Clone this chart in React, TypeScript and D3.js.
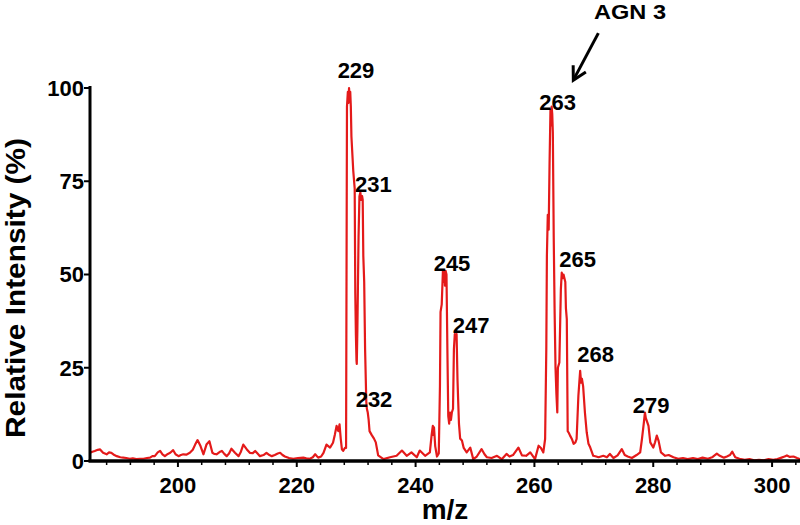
import React, { useRef, useEffect } from 'react';
import * as d3 from 'd3';

// spectrum trace: [m/z, relative intensity %]
const spectrum: [number, number][] = [
  [185.2, 2.2], [185.6, 2.5], [186.0, 2.7], [186.5, 3.0], [186.9, 3.1], [187.4, 2.2],
  [188.0, 1.8], [188.4, 2.3], [188.8, 2.2], [189.3, 1.6], [189.7, 1.3], [190.3, 1.0],
  [190.8, 0.9], [191.3, 0.8], [191.9, 0.6], [192.4, 0.7], [193.0, 0.5], [193.6, 0.6],
  [194.2, 0.6], [194.8, 0.8], [195.3, 0.9], [195.7, 1.3], [196.1, 1.3], [196.6, 2.3],
  [197.0, 2.7], [197.4, 1.8], [197.8, 1.3], [198.3, 1.9], [198.7, 2.2], [199.2, 2.9],
  [199.6, 1.8], [200.1, 1.3], [200.5, 1.6], [200.9, 1.8], [201.4, 1.7], [202.0, 2.2],
  [202.5, 3.0], [202.9, 4.4], [203.3, 5.6], [203.8, 4.0], [204.3, 1.8], [204.8, 4.4],
  [205.3, 5.3], [205.8, 2.2], [206.1, 1.9], [206.5, 1.8], [207.0, 2.4], [207.4, 2.7],
  [207.8, 1.9], [208.2, 1.3], [208.6, 2.0], [209.0, 3.3], [209.6, 2.2], [210.2, 1.3],
  [210.6, 2.5], [211.0, 4.4], [211.6, 3.1], [212.1, 2.2], [212.6, 2.1], [213.0, 2.7],
  [213.4, 2.0], [213.8, 1.3], [214.4, 1.6], [214.9, 2.2], [215.4, 1.6], [215.8, 1.3],
  [216.3, 1.6], [216.8, 2.0], [217.2, 2.2], [217.6, 1.6], [218.0, 1.2], [218.7, 0.8],
  [219.4, 0.6], [220.2, 0.8], [221.1, 0.9], [221.6, 0.7], [222.2, 0.6], [222.7, 1.0],
  [223.1, 1.8], [223.6, 0.9], [224.1, 1.2], [224.5, 2.2], [225.0, 4.4], [225.3, 4.0],
  [225.6, 3.6], [226.1, 4.9], [226.4, 7.0], [226.7, 9.4], [227.0, 8.0], [227.2, 9.8],
  [227.4, 6.0], [227.6, 3.1], [227.8, 2.7], [228.1, 3.5], [228.3, 3.5],
  // 229 / 231 / 232 cluster
  [228.45, 95], [228.6, 99], [228.7, 96], [228.8, 100], [228.9, 97], [229.0, 99],
  [229.1, 95], [229.2, 87], [229.5, 78], [229.75, 73], [229.85, 45], [229.95, 34],
  [230.05, 27], [230.1, 26], [230.2, 35], [230.4, 60], [230.55, 71], [230.7, 72],
  [230.85, 70], [231.0, 71], [231.1, 70], [231.2, 55], [231.35, 48], [231.5, 30],
  [231.7, 16], [231.8, 14], [231.95, 13], [232.1, 11], [232.25, 8], [232.6, 7],
  [233.0, 6], [233.3, 5], [233.7, 1.5],
  [234.6, 0.5], [235.7, 1.0], [236.8, 1.4], [237.7, 2.8], [238.5, 1.4], [239.3, 2.3],
  [240.2, 1.0], [240.7, 2.8], [241.6, 1.4], [242.4, 2.3],
  // 243 / 245 / 247
  [242.7, 7], [242.9, 9.4], [243.0, 7], [243.1, 9], [243.3, 4], [243.6, 1.2],
  [243.9, 2], [244.1, 20], [244.2, 40], [244.4, 42], [244.6, 51], [244.75, 48],
  [244.85, 51], [244.95, 47], [245.05, 51], [245.2, 50], [245.35, 30], [245.5, 12],
  [245.65, 10], [245.8, 13], [245.95, 11], [246.1, 13], [246.3, 14], [246.45, 30],
  [246.6, 34], [246.75, 33], [246.9, 34], [247.05, 22], [247.15, 17], [247.3, 10],
  [247.5, 6], [247.8, 5.5], [248.1, 3.5], [248.6, 2.3], [249.2, 3.6], [249.7, 0.5],
  [250.3, 1.2], [251.1, 3.2], [251.6, 1.8], [252.0, 1.0], [252.8, 0.8], [253.7, 1.4],
  [254.5, 0.5], [255.3, 1.9], [255.8, 1.2], [256.4, 1.6], [257.3, 3.6], [257.9, 1.5],
  [258.6, 1.4], [259.3, 2.3], [260.1, 0.5], [260.7, 4.1], [261.1, 3.5], [261.5, 2.3],
  [261.8, 5.9],
  // 263 / 265 / 268
  [262.0, 30], [262.1, 55], [262.25, 66], [262.4, 62], [262.55, 80], [262.7, 94],
  [262.8, 90], [262.9, 95], [263.0, 93], [263.1, 88], [263.25, 60], [263.4, 40],
  [263.55, 25], [263.7, 18], [263.85, 13], [263.95, 25], [264.2, 26.4], [264.45, 46],
  [264.6, 50.5], [264.75, 49], [264.9, 50], [265.05, 49], [265.2, 48], [265.3, 41],
  [265.45, 38], [265.6, 8], [265.8, 7.5], [266.0, 6.8], [266.3, 5.9], [266.6, 4.6],
  [266.9, 5.0], [267.1, 5.9], [267.4, 17.5], [267.6, 22], [267.7, 24.2], [267.85, 21],
  [268.0, 22], [268.2, 20], [268.5, 13], [268.8, 7.7], [269.1, 4.6], [269.4, 3.6],
  [269.9, 1.4], [270.4, 1.2], [270.8, 1.0], [271.6, 1.4], [272.2, 1.0], [272.7, 1.9],
  [273.3, 0.8], [274.0, 1.5], [274.7, 3.2], [275.2, 1.6], [275.7, 1.2], [276.4, 0.8],
  [277.2, 1.6], [277.8, 2.3],
  // 279 / 281
  [278.1, 5.9], [278.4, 10], [278.6, 13], [278.75, 11.5], [278.9, 10.8], [279.2, 9.4],
  [279.5, 5], [280.0, 3.6], [280.3, 5], [280.6, 6.8], [280.9, 5.4], [281.3, 2.3],
  [282.0, 1.4], [282.6, 1.6], [283.4, 1.0], [284.2, 0.6], [285.0, 0.8], [285.8, 0.5],
  [286.7, 0.8], [287.5, 0.5], [288.3, 0.9], [289.2, 0.6], [289.9, 1.0], [290.7, 2.0],
  [291.2, 1.4], [291.9, 0.9], [292.4, 1.2], [292.9, 1.6], [293.3, 2.5], [293.8, 1.0],
  [294.5, 0.6], [295.4, 0.3], [296.2, 0.5], [297.0, 0.2], [297.8, 0.3], [298.6, 0.2],
  [299.4, 0.5], [300.2, 0.3], [300.9, 0.5], [301.6, 0.9], [302.1, 1.2], [302.5, 1.5],
  [303.0, 1.1], [303.6, 1.2], [304.2, 0.8], [304.7, 0.5],
];

const xTicks = [200, 220, 240, 260, 280, 300];
const yTicks = [0, 25, 50, 75, 100];

// peak labels: [text, m/z anchor (centre), intensity anchor (baseline)]
const peakLabels: [string, number, number][] = [
  ['229', 229.97, 102.7],
  ['231', 232.88, 72.1],
  ['232', 233.0, 14.5],
  ['245', 246.13, 50.9],
  ['247', 249.33, 34.3],
  ['263', 263.89, 94.1],
  ['265', 267.26, 52.0],
  ['268', 270.29, 26.5],
  ['279', 279.63, 12.9],
];

const annotationText = 'AGN 3';
const annotationAt: [number, number] = [276.09, 118.4];
const arrowFrom: [number, number] = [270.76, 114.7];
const arrowTo: [number, number] = [266.55, 102.1];

const FONT = "Arial, 'Liberation Sans', Helvetica, sans-serif";
const RED = '#e41a1a';

const App = () => {
  const svgRef = useRef<SVGSVGElement>(null);

  useEffect(() => {
    document.body.style.margin = '0';
    const svg = d3.select(svgRef.current);
    svg.selectAll('*').remove();

    const x = d3.scaleLinear().domain([185.2, 304.7]).range([90, 800]);
    const y = d3.scaleLinear().domain([0, 100]).range([461, 88]);

    const g = svg.append('g');

    // spectrum trace
    const line = d3.line<[number, number]>()
      .x(d => x(d[0]))
      .y(d => y(d[1]));

    g.append('path')
      .datum(spectrum)
      .attr('d', line)
      .attr('fill', 'none')
      .attr('stroke', RED)
      .attr('stroke-width', 2.2)
      .attr('stroke-linejoin', 'round');

    // x axis: minor ticks every 4, labelled every 20
    const minor = d3.range(188, 305, 4).filter(v => !xTicks.includes(v));
    g.selectAll('.minor-tick')
      .data(minor)
      .enter()
      .append('line')
      .attr('x1', d => x(d))
      .attr('x2', d => x(d))
      .attr('y1', y(0))
      .attr('y2', y(0) + 4)
      .attr('stroke', '#000')
      .attr('stroke-width', 1.5);

    g.selectAll('.major-tick')
      .data(xTicks)
      .enter()
      .append('line')
      .attr('x1', d => x(d))
      .attr('x2', d => x(d))
      .attr('y1', y(0))
      .attr('y2', y(0) + 6)
      .attr('stroke', '#000')
      .attr('stroke-width', 2);

    g.selectAll('.x-label')
      .data(xTicks)
      .enter()
      .append('text')
      .attr('x', d => x(d))
      .attr('y', 493)
      .attr('text-anchor', 'middle')
      .style('font-family', FONT)
      .style('font-size', '22px')
      .style('font-weight', 'bold')
      .text(d => d);

    g.append('line')
      .attr('x1', x.range()[0] - 1.5)
      .attr('x2', x.range()[1])
      .attr('y1', y(0))
      .attr('y2', y(0))
      .attr('stroke', '#000')
      .attr('stroke-width', 3.5);

    // y axis
    g.append('line')
      .attr('x1', x.range()[0])
      .attr('x2', x.range()[0])
      .attr('y1', y(0))
      .attr('y2', y(100) - 2)
      .attr('stroke', '#000')
      .attr('stroke-width', 3);

    g.selectAll('.y-tick')
      .data(yTicks)
      .enter()
      .append('line')
      .attr('x1', x.range()[0] - 6)
      .attr('x2', x.range()[0])
      .attr('y1', d => y(d))
      .attr('y2', d => y(d))
      .attr('stroke', '#000')
      .attr('stroke-width', 2);

    g.selectAll('.y-label')
      .data(yTicks)
      .enter()
      .append('text')
      .attr('x', 84)
      .attr('y', d => y(d))
      .attr('dy', '0.36em')
      .attr('text-anchor', 'end')
      .style('font-family', FONT)
      .style('font-size', '22px')
      .style('font-weight', 'bold')
      .text(d => d);

    // axis titles
    g.append('text')
      .attr('x', 445)
      .attr('y', 519)
      .attr('text-anchor', 'middle')
      .style('font-family', FONT)
      .style('font-size', '28px')
      .style('font-weight', 'bold')
      .text('m/z');

    g.append('text')
      .attr('transform', 'translate(25,288) rotate(-90)')
      .attr('text-anchor', 'middle')
      .attr('textLength', 300)
      .attr('lengthAdjust', 'spacingAndGlyphs')
      .style('font-family', FONT)
      .style('font-size', '27px')
      .style('font-weight', 'bold')
      .text('Relative Intensity (%)');

    // peak labels
    g.selectAll('.peak-label')
      .data(peakLabels)
      .enter()
      .append('text')
      .attr('x', d => x(d[1]))
      .attr('y', d => y(d[2]))
      .attr('text-anchor', 'middle')
      .style('font-family', FONT)
      .style('font-size', '22px')
      .style('font-weight', 'bold')
      .text(d => d[0]);

    // AGN 3 annotation with arrow
    g.append('text')
      .attr('x', x(annotationAt[0]))
      .attr('y', y(annotationAt[1]))
      .attr('text-anchor', 'middle')
      .attr('textLength', 72)
      .attr('lengthAdjust', 'spacingAndGlyphs')
      .style('font-family', FONT)
      .style('font-size', '21px')
      .style('font-weight', 'bold')
      .text(annotationText);

    const x1 = x(arrowFrom[0]), y1 = y(arrowFrom[1]);
    const x2 = x(arrowTo[0]), y2 = y(arrowTo[1]);
    g.append('line')
      .attr('x1', x1).attr('y1', y1)
      .attr('x2', x2).attr('y2', y2)
      .attr('stroke', '#000')
      .attr('stroke-width', 3);

    const ang = Math.atan2(y2 - y1, x2 - x1);
    const head = 15;
    const spread = 0.5;
    const hp = (a: number) => [x2 - head * Math.cos(a), y2 - head * Math.sin(a)];
    const [ax, ay] = hp(ang - spread);
    const [bx, by] = hp(ang + spread);
    g.append('path')
      .attr('d', `M${ax},${ay}L${x2},${y2}L${bx},${by}`)
      .attr('fill', 'none')
      .attr('stroke', '#000')
      .attr('stroke-width', 3)
      .attr('stroke-linejoin', 'miter');
  }, []);

  return (
    <svg ref={svgRef} width={800} height={525} style={{ display: 'block', background: '#fff' }} />
  );
};

export default App;
